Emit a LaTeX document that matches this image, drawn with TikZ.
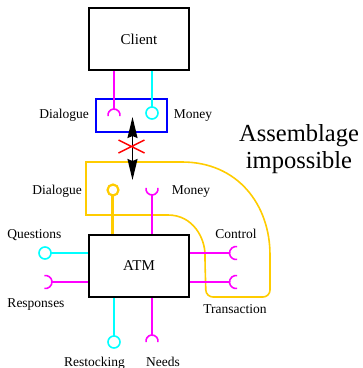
\documentclass[tikz,border=0pt]{standalone}
\usepackage{fontspec}
\setmainfont{Liberation Serif}
\usetikzlibrary{arrows.meta,calc}
\definecolor{portmag}{RGB}{255,0,255}
\definecolor{portcyan}{RGB}{0,255,255}
\definecolor{frameblue}{RGB}{0,0,255}
\definecolor{gold}{RGB}{255,204,0}
\definecolor{xred}{RGB}{255,0,0}
\begin{document}
\begin{tikzpicture}[x=1pt,y=-1pt,
  comp/.style={draw=black,line width=2pt,minimum width=100pt,minimum height=62pt,
    inner sep=0pt,font=\fontsize{15}{18}\selectfont},
  lbl/.style={anchor=base,inner sep=0pt,font=\fontsize{13.5}{16}\selectfont},
  bigtext/.style={anchor=base,inner sep=0pt,font=\fontsize{24.5}{27}\selectfont},
  magwire/.style={draw=portmag,line width=1.6pt},
  cyanwire/.style={draw=portcyan,line width=1.6pt},
  goldwire/.style={draw=gold,line width=1.6pt},
  bothtips/.style={{Stealth[length=21pt,width=10pt,inset=2pt]}-{Stealth[length=21pt,width=10pt,inset=2pt]}}
]
\useasboundingbox (0,0) rectangle (363,368);

% components
\node[comp] (client) at (139,39) {Client};
\node[comp] (atm) at (139,266) {ATM};
\node[draw=frameblue,line width=2pt,minimum width=71pt,minimum height=33pt,inner sep=0pt]
  (frame) at (131.5,115.5) {};

% assembly outline
\draw[goldwire] (86,162) -- (182,162)
  .. controls (238,162) and (270,205) .. (270,255)
  [rounded corners=7pt] -- (270,297) -- (206,297) -- (205,262)
  [sharp corners] .. controls (205,238) and (193,215) .. (168,215)
  -- (86,215) -- cycle;

% client ports inside the blue frame
\coordinate (cDia) at (114,115);
\coordinate (cMon) at (152,113);
\draw[magwire] (client.south -| cDia) -- ($(cDia)+(0,-6)$);
\draw[magwire] (cDia) ++(170:6) arc[start angle=170,end angle=370,radius=6];
\draw[cyanwire] (client.south -| cMon) -- ($(cMon)+(0,-6)$);
\draw[cyanwire] (cMon) circle[radius=6];
\node[lbl] (lcDia) at (64,118) {Dialogue};
\node[lbl] (lcMon) at (193,118) {Money};

% ATM ports on top
\coordinate (aDia) at (113,190);
\coordinate (aMon) at (152,189);
\draw[draw=gold,line width=3pt] ($(aDia)+(0,5.5)$) -- (atm.north -| aDia);
\draw[draw=gold,line width=2.2pt] (aDia) circle[radius=5.5];
\draw[magwire] ($(aMon)+(0,6)$) -- (atm.north -| aMon);
\draw[magwire] (aMon) ++(-10:6) arc[start angle=-10,end angle=190,radius=6];
\node[lbl] (laDia) at (57,194) {Dialogue};
\node[lbl] (laMon) at (191,194) {Money};

% ATM ports on the left
\coordinate (aQ) at (45,253);
\coordinate (aR) at (45.5,282);
\draw[cyanwire] (atm.west |- aQ) -- ($(aQ)+(6,0)$);
\draw[cyanwire] (aQ) circle[radius=6];
\draw[magwire] (atm.west |- aR) -- ($(aR)+(6.5,0)$);
\draw[magwire] (aR) ++(-100:6.5) arc[start angle=-100,end angle=100,radius=6.5];
\node[lbl] (lQ) at (34.5,238) {Questions};
\node[lbl] (lR) at (36,307) {Responses};

% ATM ports on the right
\coordinate (aC) at (236,253);
\coordinate (aT) at (236,282);
\draw[magwire] (atm.east |- aC) -- ($(aC)+(-6.5,0)$);
\draw[magwire] (aC) ++(80:6.5) arc[start angle=80,end angle=280,radius=6.5];
\draw[magwire] (atm.east |- aT) -- ($(aT)+(-6.5,0)$);
\draw[magwire] (aT) ++(80:6.5) arc[start angle=80,end angle=280,radius=6.5];
\node[lbl] (lC) at (236,238) {Control};
\node[lbl] (lT) at (235,313) {Transaction};

% ATM ports below
\coordinate (aS) at (114,342);
\coordinate (aN) at (152,341);
\draw[cyanwire] (atm.south -| aS) -- ($(aS)+(0,-6)$);
\draw[cyanwire] (aS) circle[radius=6];
\draw[magwire] (atm.south -| aN) -- ($(aN)+(0,-6)$);
\draw[magwire] (aN) ++(170:6) arc[start angle=170,end angle=370,radius=6];
\node[lbl] (lS) at (94.5,366.5) {Restocking};
\node[lbl] (lN) at (163,366.5) {Needs};

% forbidden connection
\coordinate (arrT) at (132.5,117);
\coordinate (arrB) at (132.5,180);
\draw[line width=1.5pt,bothtips] (arrT) -- (arrB);
\coordinate (xc) at (131.5,146.5);
\draw[xred,line width=1.4pt] ($(xc)+(-13,-6.5)$) -- ($(xc)+(13,6.5)$)
  ($(xc)+(-13,6.5)$) -- ($(xc)+(13,-6.5)$);

\node[bigtext] (t1) at (299,141) {Assemblage};
\node[bigtext] (t2) at (299,168) {impossible};
\end{tikzpicture}
\end{document}
